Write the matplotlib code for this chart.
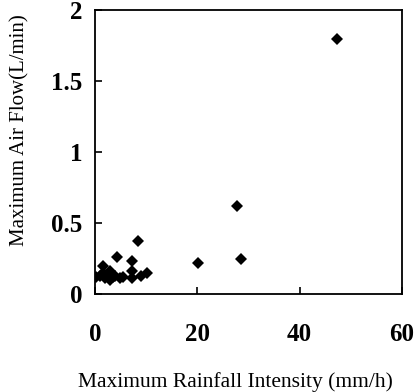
import numpy as np
import matplotlib
matplotlib.use("Agg")
import matplotlib.pyplot as plt

# rainfall intensity (mm/h) vs air flow (L/min)
rain_mm_h = [0.3, 1.0, 1.5, 1.6, 2.0, 2.5, 3.0, 3.0, 3.5, 4.0, 4.4, 5.0, 5.5,
             7.2, 7.2, 7.2, 8.5, 9.1, 10.1, 20.2, 27.8, 28.5, 47.3]
air_flow = [0.12, 0.13, 0.15, 0.20, 0.11, 0.14, 0.10, 0.16, 0.12, 0.13, 0.26, 0.11, 0.12,
            0.235, 0.16, 0.11, 0.375, 0.13, 0.145, 0.215, 0.62, 0.25, 1.80]

x_ticks = [0, 20, 40, 60]
y_ticks = [0, 0.5, 1, 1.5, 2]
y_labels = ["0", "0.5", "1", "1.5", "2"]

plt.rcParams['font.family'] = ['Liberation Serif', 'DejaVu Serif']

fig = plt.figure(figsize=(4.16, 3.92), dpi=100)
ax = fig.add_axes([0.228, 0.25, 0.738, 0.724])

ax.plot(rain_mm_h, air_flow, 'D', color='black', markersize=6, markeredgewidth=0)

ax.set_xlim(0, 60)
ax.set_ylim(0, 2)
ax.set_xticks(x_ticks)
ax.set_yticks(y_ticks)
ax.set_yticklabels(y_labels)
ax.tick_params(direction='in', length=5, width=1.2, labelsize=18)
ax.tick_params(axis='x', pad=21)
ax.tick_params(axis='y', pad=9)
for lab in ax.get_xticklabels() + ax.get_yticklabels():
    lab.set_fontweight('bold')
for s in ax.spines.values():
    s.set_linewidth(1.3)

fig.text(78 / 416, 5 / 392, "Maximum Rainfall Intensity (mm/h)", fontsize=15.5,
         ha='left', va='baseline')
fig.text(0.048, 0.668, "Maximum Air Flow(L/min)", fontsize=15, rotation=90,
         ha='center', va='center')

fig.savefig("out.png", dpi=100)
